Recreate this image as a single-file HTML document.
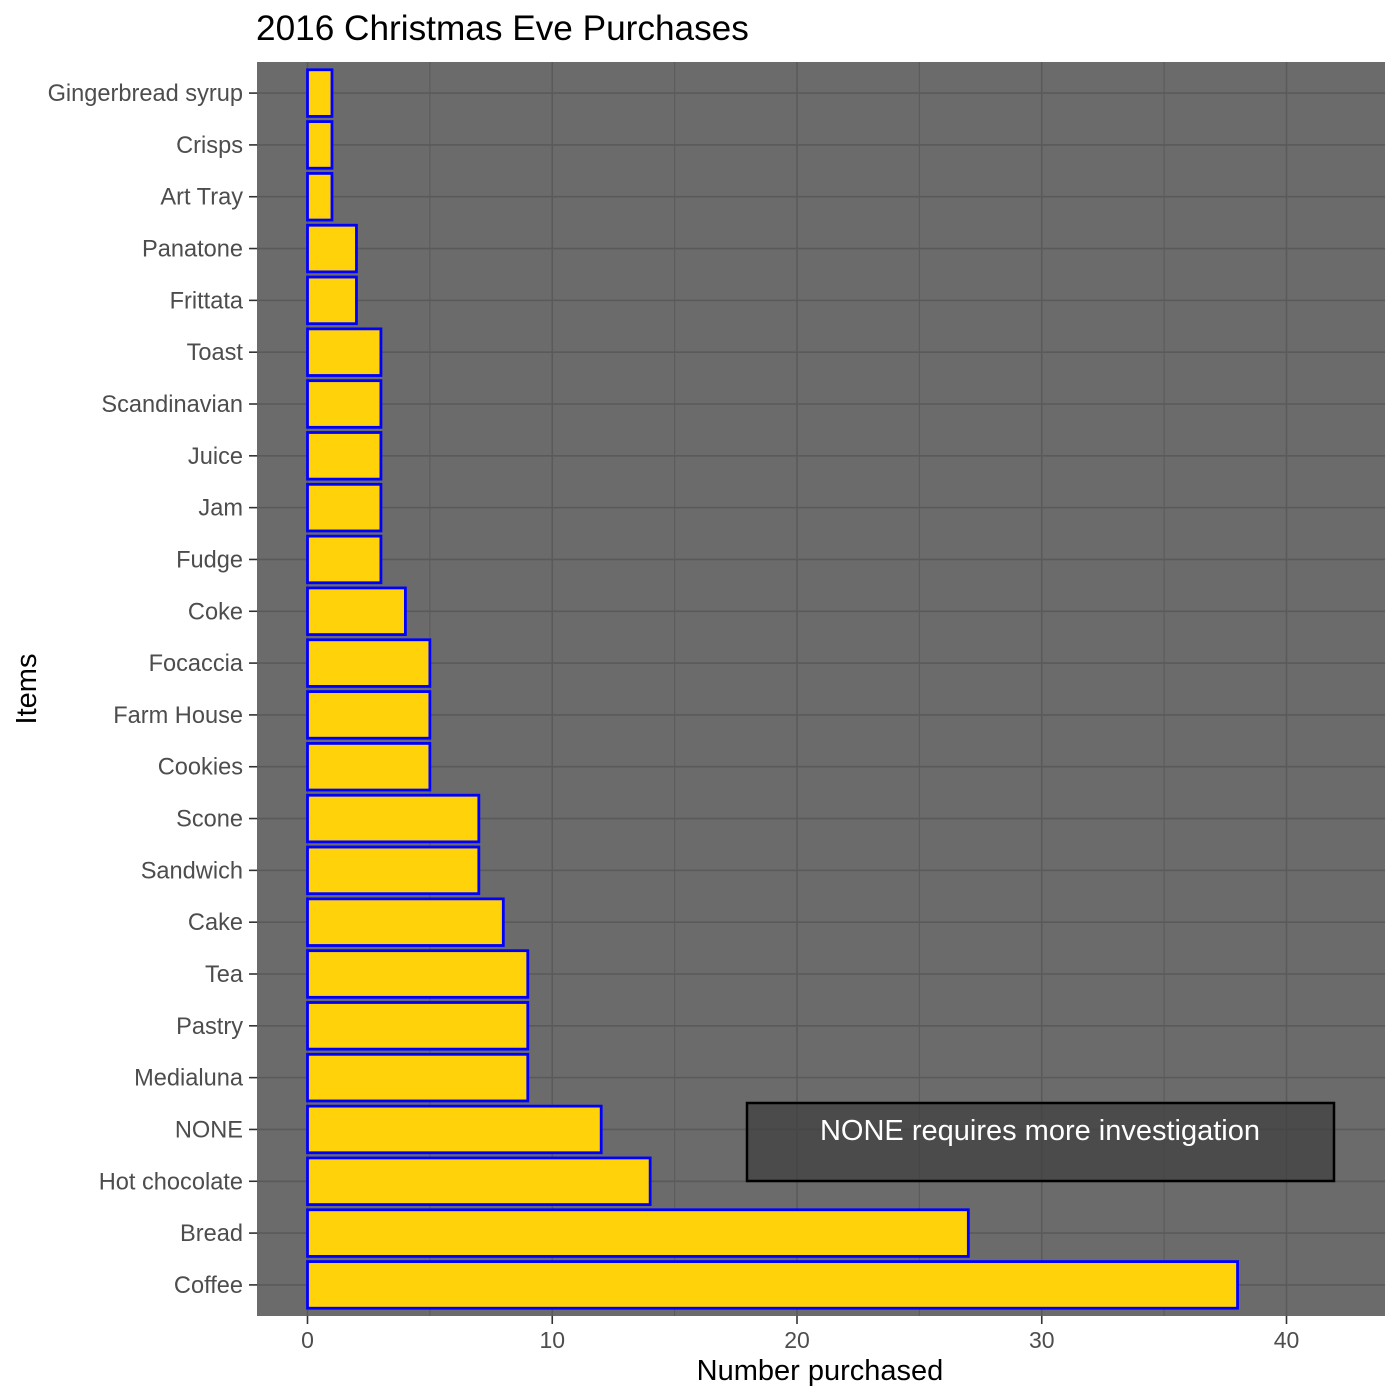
<!DOCTYPE html>
<html><head><meta charset="utf-8"><style>
body{margin:0;background:#fff;}
svg{display:block;font-family:"Liberation Sans",Arial,sans-serif;}
</style></head><body>
<svg id="chart" width="1400" height="1400">
<text x="256" y="40" font-size="35.2" fill="#000">2016 Christmas Eve Purchases</text>
<rect x="257" y="62" width="1128" height="1254" fill="#6b6b6b"/>
<g id="grid"></g>
<g id="bars"></g>
<g id="yaxis"></g>
<g id="xaxis"></g>
<rect x="747" y="1103" width="587" height="78" fill="rgba(64,64,64,0.75)" stroke="#000" stroke-width="2.5"/>
<text x="1040" y="1140" font-size="29" fill="#fff" text-anchor="middle">NONE requires more investigation</text>
<text x="820" y="1380" font-size="29" fill="#000" text-anchor="middle">Number purchased</text>
<text transform="translate(36,689) rotate(-90)" font-size="29" fill="#000" text-anchor="middle">Items</text>
</svg>
<script>
const categories=["Gingerbread syrup","Crisps","Art Tray","Panatone","Frittata","Toast","Scandinavian","Juice","Jam","Fudge","Coke","Focaccia","Farm House","Cookies","Scone","Sandwich","Cake","Tea","Pastry","Medialuna","NONE","Hot chocolate","Bread","Coffee"];
const values=[1,1,1,2,2,3,3,3,3,3,4,5,5,5,7,7,8,9,9,9,12,14,27,38];
const xTicks=[0,10,20,30,40];
const xMinorTicks=[5,15,25,35];
const NS="http://www.w3.org/2000/svg";
const pL=257,pR=1385,pT=62,pB=1316;
const xs=v=>307.5+v*24.475;
const step=(pB-pT)/(categories.length-1+1.2);
const ys=i=>pT+(0.6+i)*step;
function mk(tag,attrs,parent){const e=document.createElementNS(NS,tag);for(const k in attrs)e.setAttribute(k,attrs[k]);document.getElementById(parent).appendChild(e);return e;}
xMinorTicks.concat(xTicks).forEach(v=>{
 const l=mk('line',{x1:xs(v),x2:xs(v),y1:pT,y2:pB,stroke:'#5a5a5a','stroke-width':xTicks.includes(v)?1.6:1},'grid');
 
 
});
categories.forEach((c,i)=>{
 const l=mk('line',{x1:pL,x2:pR,y1:ys(i),y2:ys(i),stroke:'#5a5a5a','stroke-width':1.6},'grid');
 
 
 const h=step*0.9;
 const r=mk('rect',{x:xs(0),y:ys(i)-h/2,width:xs(values[i])-xs(0),height:h,fill:'#ffd20a',stroke:'#0000ff','stroke-width':2.8},'bars');
 
 
 const t=mk('line',{x1:249,x2:257,y1:ys(i),y2:ys(i),stroke:'#333','stroke-width':1.6},'yaxis');
 
 
 const tx=mk('text',{x:243,y:ys(i)+8,'font-size':23.6,fill:'#4d4d4d','text-anchor':'end'},'yaxis');
 tx.textContent=c;
 
 
});
xTicks.forEach(v=>{
 const t=mk('line',{x1:xs(v),x2:xs(v),y1:pB,y2:pB+8,stroke:'#333','stroke-width':1.6},'xaxis');
 
 
 const tx=mk('text',{x:xs(v),y:1348,'font-size':23,fill:'#4d4d4d','text-anchor':'middle'},'xaxis');
 tx.textContent=v;
 
 
});
</script>
</body></html>
